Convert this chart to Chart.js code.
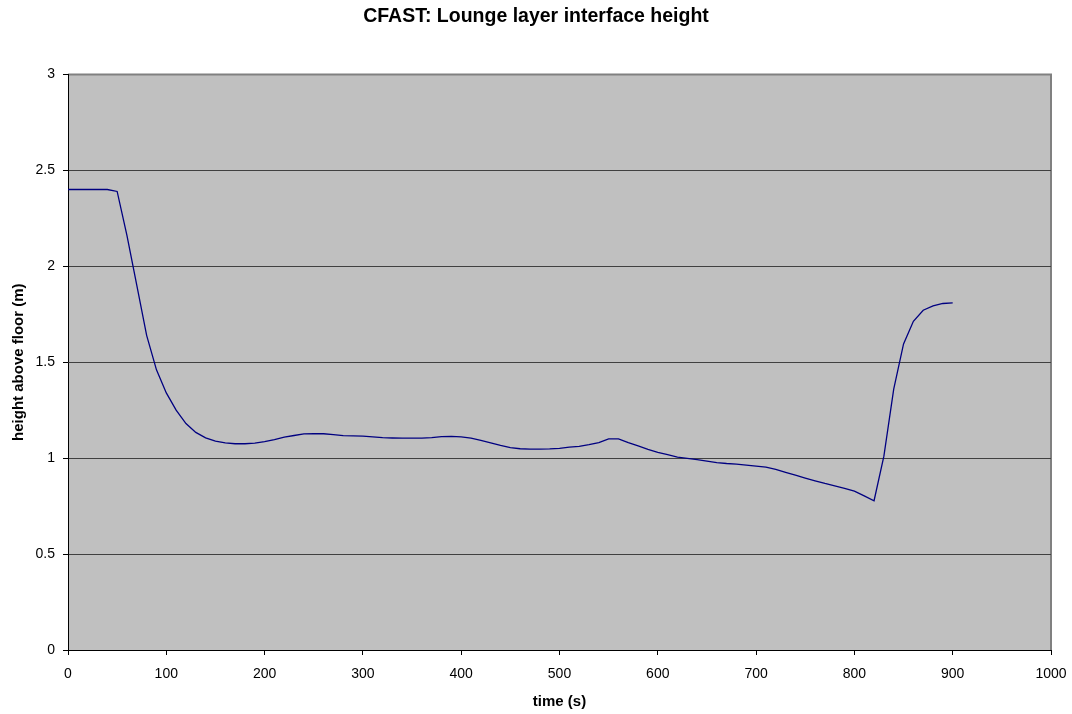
<!DOCTYPE html>
<html>
<head>
<meta charset="utf-8">
<title>CFAST: Lounge layer interface height</title>
<script src="https://cdn.jsdelivr.net/npm/chart.js@4/dist/chart.umd.min.js"></script>
<style>
    html, body { margin: 0; padding: 0; background: #ffffff; }
    #wrap { width: 1072px; height: 714px; }
</style>
</head>
<body>
<div id="wrap"><canvas id="heightChart" width="1072" height="714"></canvas></div>
<script>
// 图表数据（时间 s，层界面高度 m）
const times = [
    0, 10, 20, 30, 40, 50, 60, 70, 80, 90,
    100, 110, 120, 130, 140, 150, 160, 170, 180, 190,
    200, 210, 220, 230, 240, 250, 260, 270, 280, 290,
    300, 310, 320, 330, 340, 350, 360, 370, 380, 390,
    400, 410, 420, 430, 440, 450, 460, 470, 480, 490,
    500, 510, 520, 530, 540, 550, 560, 570, 580, 590,
    600, 610, 620, 630, 640, 650, 660, 670, 680, 690,
    700, 710, 720, 730, 740, 750, 760, 770, 780, 790,
    800, 810, 820, 830, 840, 850, 860, 870, 880, 890,
    900
];
const heights = [
    2.40, 2.40, 2.40, 2.40, 2.40, 2.39, 2.16, 1.90, 1.64, 1.46,
    1.34, 1.25, 1.18, 1.134, 1.106, 1.089, 1.080, 1.075, 1.075, 1.078,
    1.086, 1.097, 1.110, 1.118, 1.126, 1.128, 1.127, 1.122, 1.117, 1.116,
    1.115, 1.111, 1.107, 1.105, 1.104, 1.104, 1.104, 1.107, 1.112, 1.113,
    1.111, 1.104, 1.092, 1.080, 1.066, 1.055, 1.049, 1.047, 1.047, 1.048,
    1.051, 1.057, 1.061, 1.070, 1.081, 1.100, 1.100, 1.081, 1.064, 1.046,
    1.030, 1.018, 1.005, 0.999, 0.992, 0.984, 0.977, 0.972, 0.969, 0.964,
    0.958, 0.953, 0.942, 0.926, 0.911, 0.896, 0.882, 0.868, 0.856, 0.843,
    0.828, 0.803, 0.778, 1.01, 1.36, 1.595, 1.713, 1.771, 1.793, 1.806,
    1.809
];
const xTicks = [0, 100, 200, 300, 400, 500, 600, 700, 800, 900, 1000];
const yTicks = [0, 0.5, 1, 1.5, 2, 2.5, 3];

const chartTitle = 'CFAST: Lounge layer interface height';
const xTitle = 'time (s)';
const yTitle = 'height above floor (m)';

Chart.defaults.font.family = 'Arial, "Liberation Sans", sans-serif';
Chart.defaults.color = '#000000';

// 绘图区灰色背景和边框
const plotAreaPlugin = {
    id: 'plotArea',
    beforeDraw(chart) {
        const { ctx, chartArea: a } = chart;
        ctx.save();
        ctx.fillStyle = '#c0c0c0';
        ctx.fillRect(a.left, a.top, a.right - a.left, a.bottom - a.top);
        ctx.strokeStyle = '#808080';
        ctx.lineWidth = 2;
        ctx.beginPath();
        ctx.moveTo(a.left, a.top);
        ctx.lineTo(a.right, a.top);
        ctx.lineTo(a.right, a.bottom);
        ctx.stroke();
        ctx.restore();
    }
};

const points = times.map((t, i) => ({ x: t, y: heights[i] }));

const ctx = document.getElementById('heightChart').getContext('2d');
let heightChart = new Chart(ctx, {
    type: 'line',
    data: {
        datasets: [{
            label: 'layer interface height',
            data: points,
            borderColor: '#000080',
            borderWidth: 1.3,
            pointRadius: 0,
            tension: 0,
            fill: false
        }]
    },
    options: {
        responsive: false,
        animation: false,
        layout: { padding: { left: 0, right: 0, top: 0, bottom: 0 } },
        plugins: {
            legend: { display: false },
            tooltip: { enabled: false },
            title: {
                display: true,
                text: chartTitle,
                color: '#000000',
                font: { size: 19.5, weight: 'bold' },
                padding: { top: 5, bottom: 46 }
            }
        },
        scales: {
            x: {
                type: 'linear',
                min: 0,
                max: 1000,
                afterBuildTicks: s => { s.ticks = xTicks.map(v => ({ value: v })); },
                afterFit: s => {
                    // 右侧留白由刻度填充控制
                    s.height = 64;
                    s.paddingLeft = 0;
                    s.paddingRight = 21;
                },
                grid: {
                    drawOnChartArea: false,
                    drawTicks: true,
                    tickLength: 5,
                    tickColor: '#000000'
                },
                border: { color: '#000000', width: 1 },
                ticks: {
                    font: { size: 14 },
                    padding: 11,
                    maxRotation: 0,
                    callback: v => String(v)
                },
                title: {
                    display: true,
                    text: xTitle,
                    font: { size: 15, weight: 'bold' },
                    padding: { top: 0, bottom: 3 }
                }
            },
            y: {
                type: 'linear',
                min: 0,
                max: 3,
                afterBuildTicks: s => { s.ticks = yTicks.map(v => ({ value: v })); },
                afterFit: s => {
                    s.width = 68;
                    s.paddingTop = 0;
                    s.paddingBottom = 0;
                },
                grid: {
                    drawOnChartArea: true,
                    color: c => (c.tick && c.tick.value === 3 ? '#808080' : '#404040'),
                    lineWidth: 1,
                    drawTicks: true,
                    tickLength: 5,
                    tickColor: '#000000'
                },
                border: { color: '#000000', width: 1 },
                ticks: {
                    font: { size: 14 },
                    padding: 8,
                    callback: v => String(v)
                },
                title: {
                    display: true,
                    text: yTitle,
                    font: { size: 15, weight: 'bold' },
                    padding: { top: 10, bottom: 0 }
                }
            }
        }
    },
    plugins: [plotAreaPlugin]
});
</script>
</body>
</html>
